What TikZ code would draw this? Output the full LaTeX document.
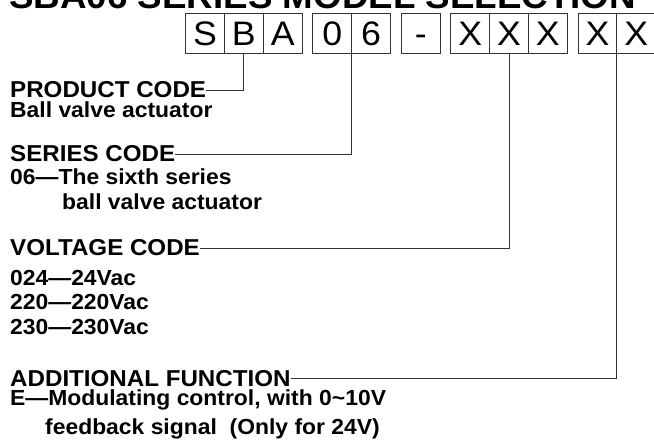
\documentclass[tikz,border=0pt]{standalone}
\usepackage{fontspec}
\setmainfont{Liberation Sans}[FakeStretch=1.05]
\usetikzlibrary{positioning}

\begin{document}
\begin{tikzpicture}[x=1pt, y=-1pt,
    cell/.style={draw=black!80, line width=1.1pt, minimum width=38.8pt, minimum height=40pt, inner sep=0pt, outer sep=0pt, text height=24pt, text depth=0pt, font=\fontsize{34}{36}\selectfont},
    head/.style={anchor=west, inner sep=0pt, font=\bfseries\fontsize{23}{26}\selectfont},
    desc/.style={anchor=base west, inner sep=0pt, font=\bfseries\fontsize{21.8}{26}\selectfont},
    link/.style={draw=black!80, line width=0.9pt}
]
\useasboundingbox (0,0) rectangle (654,443);

% title, cut off at the top edge
\node[anchor=base west, inner sep=0pt, font=\bfseries\fontsize{35}{38}\selectfont] (title) at (9,9) {SBA06 SERIES MODEL SELECTION};

% code boxes
\node[cell] (s1) at (205.1,33.3) {S};
\node[cell, right=0pt of s1] (s2) {B};
\node[cell, right=0pt of s2] (s3) {A};
\node[cell, right=10.8pt of s3] (n1) {0};
\node[cell, right=0pt of n1] (n2) {6};
\node[cell, right=10.8pt of n2] (d1) {-};
\node[cell, right=10.8pt of d1] (v1) {X};
\node[cell, right=0pt of v1] (v2) {X};
\node[cell, right=0pt of v2] (v3) {X};
\node[cell, right=10.8pt of v3] (f1) {X};
\node[cell, right=0pt of f1] (f2) {X};

% product code
\node[head] (prod) at (10,90) {PRODUCT CODE};
\node[desc] (prodtxt) at (10,118) {Ball valve actuator};
\draw[link] (prod.east) -| (s2.south);

% series code
\node[head] (ser) at (10,154) {SERIES CODE};
\node[desc] (sertxt) at (10,185) {06—The sixth series};
\node[desc] (sertxtb) at (62,210) {ball valve actuator};
\draw[link] (ser.east) -| (n2.south west);

% voltage code
\node[head] (volt) at (10,248) {VOLTAGE CODE};
\node[desc] (volta) at (10,286) {024—24Vac};
\node[desc] (voltb) at (10,310) {220—220Vac};
\node[desc] (voltc) at (10,335) {230—230Vac};
\draw[link] (volt.east) -| (v2.south);

% additional function
\node[head] (add) at (10,378.5) {ADDITIONAL FUNCTION};
\node[desc] (adda) at (10,406) {E—Modulating control, with 0\textasciitilde10V};
\node[desc] (addb) at (45,435) {feedback signal\ \ (Only for 24V)};
\draw[link] (add.east) -| (f2.south west);
\end{tikzpicture}
\end{document}
